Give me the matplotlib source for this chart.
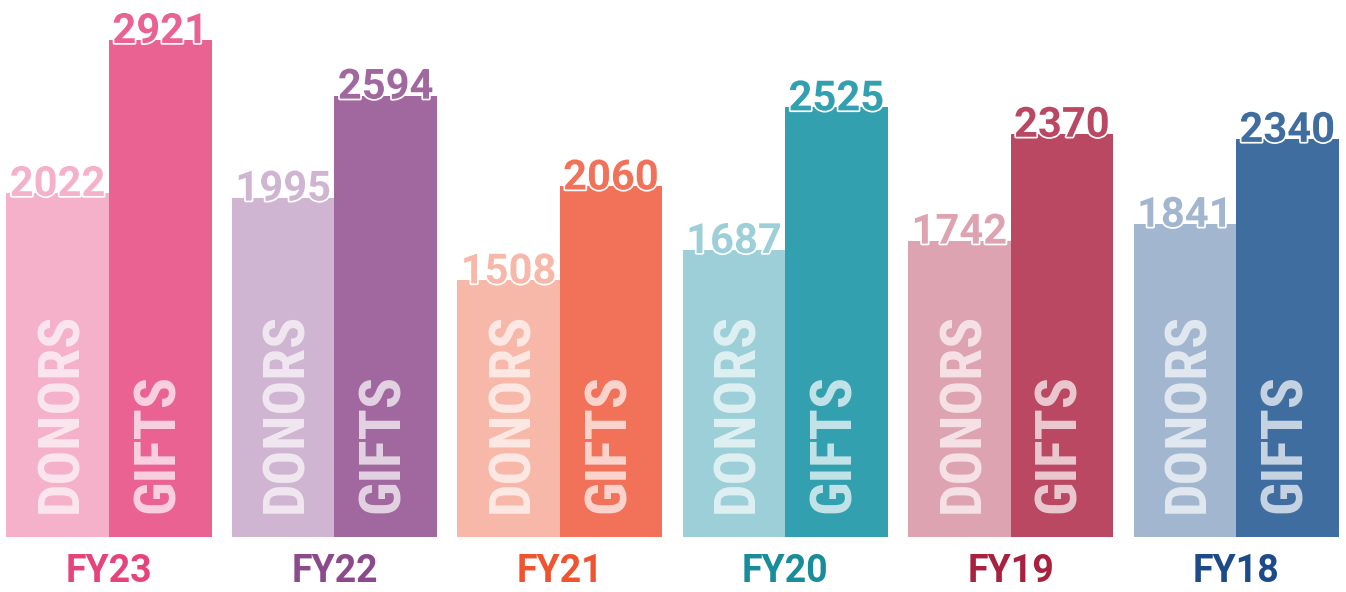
import matplotlib
matplotlib.use("Agg")
import matplotlib.pyplot as plt
import matplotlib.patheffects as pe
from matplotlib import font_manager as fm
import numpy as np

# data
years = ["FY23", "FY22", "FY21", "FY20", "FY19", "FY18"]
donors = [2022, 1995, 1508, 1687, 1742, 1841]
gifts = [2921, 2594, 2060, 2525, 2370, 2340]

donor_colors = ["#F5B1CA", "#CFB5D1", "#F8B8A9", "#9CCFD8", "#DEA3B1", "#A2B7CF"]
gift_colors = ["#E96292", "#A0689F", "#F27159", "#33A0B0", "#BA4862", "#406DA0"]
year_colors = ["#E6427C", "#8C4A8C", "#F0532F", "#178C9A", "#A8213F", "#1D4B8A"]

# pick a condensed bold face that is installed
have = set(f.name for f in fm.fontManager.ttflist)
cond = "DejaVu Sans"
for name in ["Roboto Condensed", "IBM Plex Sans Condensed", "Open Sans Condensed"]:
    if name in have:
        cond = name
        break
main = "Roboto"

fig = plt.figure(figsize=(13.46, 5.92), dpi=100)
ax = fig.add_axes([0, 0, 1, 1])

# pixel geometry -> data limits
px_per_group = 225.4
px_per_val = 497 / 2921
x0_px = 109
base_px = 55
ax.set_xlim(-x0_px / px_per_group, (1346 - x0_px) / px_per_group)
ax.set_ylim(-base_px / px_per_val, (592 - base_px) / px_per_val)
ax.axis("off")

w = 102.5 / px_per_group
x = np.arange(len(years))

ax.bar(x - w / 2, donors, w, color=donor_colors, zorder=1)
ax.bar(x + w / 2, gifts, w, color=gift_colors, zorder=1)

stroke = [pe.withStroke(linewidth=2.5, foreground="white")]
lift = -3 / px_per_val

for i in range(len(years)):
    # value labels sitting on bar tops
    ax.text(x[i] - w / 2, donors[i] + lift, str(donors[i]), ha="center", va="baseline",
            fontsize=30, fontweight="bold", family=main, color=donor_colors[i],
            path_effects=stroke, zorder=3)
    ax.text(x[i] + w / 2, gifts[i] + lift, str(gifts[i]), ha="center", va="baseline",
            fontsize=30, fontweight="bold", family=main, color=gift_colors[i],
            path_effects=stroke, zorder=3)

    # rotated in-bar labels
    ax.text(x[i] - w / 2 + 4 / px_per_group, 24 / px_per_val, "DONORS", rotation=90,
            rotation_mode="anchor", ha="left", va="center", fontsize=41.5,
            fontweight="bold", family=cond, color="white", alpha=0.68, zorder=2)
    ax.text(x[i] + w / 2 - 2 / px_per_group, 24 / px_per_val, "GIFTS", rotation=90,
            rotation_mode="anchor", ha="left", va="center", fontsize=41.5,
            fontweight="bold", family=cond, color="white", alpha=0.7, zorder=2)

    # year label under each group
    ax.text(x[i], -35 / px_per_val, years[i], ha="center", va="center",
            fontsize=27, fontweight="bold", family=main, color=year_colors[i])

fig.savefig("out.png", dpi=100)
